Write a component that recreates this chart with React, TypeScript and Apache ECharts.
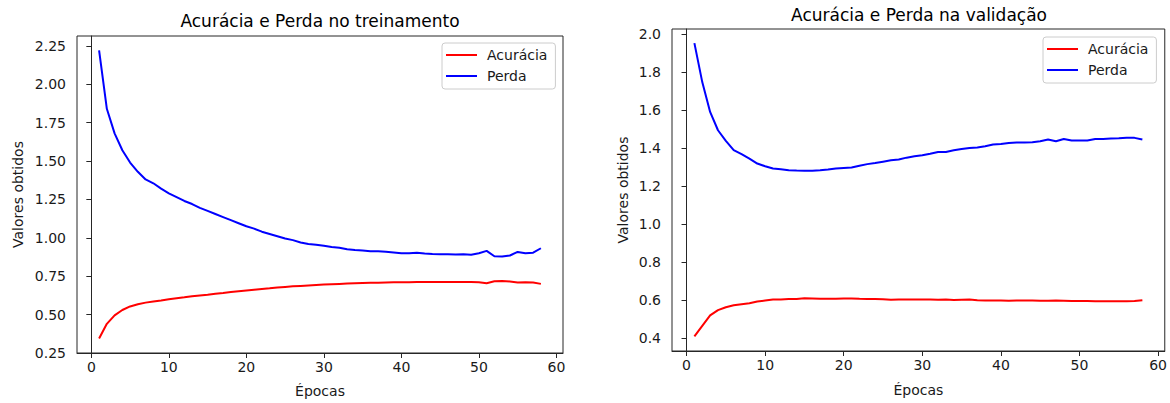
import React, { useEffect, useRef } from "react";
import * as echarts from "echarts";

const epochs = [
  1, 2, 3, 4, 5, 6, 7, 8, 9, 10, 11, 12, 13, 14, 15, 16, 17, 18, 19, 20,
  21, 22, 23, 24, 25, 26, 27, 28, 29, 30, 31, 32, 33, 34, 35, 36, 37, 38, 39, 40,
  41, 42, 43, 44, 45, 46, 47, 48, 49, 50, 51, 52, 53, 54, 55, 56, 57, 58,
];

const trainAcc = [
  0.345, 0.44, 0.495, 0.53, 0.553, 0.567, 0.578, 0.585, 0.592, 0.6,
  0.607, 0.613, 0.62, 0.625, 0.63, 0.636, 0.641, 0.647, 0.652, 0.657,
  0.662, 0.667, 0.671, 0.676, 0.68, 0.684, 0.687, 0.69, 0.693, 0.696,
  0.698, 0.7, 0.702, 0.704, 0.706, 0.707, 0.708, 0.709, 0.71, 0.711,
  0.711, 0.712, 0.712, 0.712, 0.713, 0.713, 0.713, 0.713, 0.712, 0.711,
  0.704, 0.717, 0.718, 0.716, 0.709, 0.711, 0.709, 0.7,
];

const trainLoss = [
  2.22, 1.84, 1.68, 1.57, 1.49, 1.43, 1.38, 1.355, 1.32, 1.29,
  1.265, 1.24, 1.22, 1.195, 1.175, 1.155, 1.135, 1.115, 1.095, 1.075,
  1.06, 1.04, 1.025, 1.01, 0.995, 0.985, 0.97, 0.96, 0.955, 0.948,
  0.94, 0.935, 0.925, 0.92, 0.917, 0.913, 0.912, 0.91, 0.905, 0.9,
  0.9, 0.902, 0.898, 0.895, 0.893, 0.893, 0.892, 0.893, 0.89, 0.9,
  0.915, 0.88, 0.878, 0.885, 0.908, 0.9, 0.903, 0.932,
];

const valAcc = [
  0.41, 0.465, 0.52, 0.548, 0.563, 0.573, 0.579, 0.584, 0.593, 0.598,
  0.603, 0.603, 0.606, 0.606, 0.61, 0.609, 0.608, 0.607, 0.608, 0.609,
  0.609, 0.607, 0.606, 0.606, 0.605, 0.602, 0.603, 0.603, 0.603, 0.603,
  0.603, 0.602, 0.603, 0.601, 0.602, 0.603, 0.6, 0.599, 0.599, 0.599,
  0.597, 0.598, 0.598, 0.598, 0.597, 0.597, 0.598, 0.597, 0.596, 0.596,
  0.596, 0.595, 0.595, 0.595, 0.595, 0.594, 0.596, 0.6,
];

const valLoss = [
  1.951, 1.746, 1.589, 1.493, 1.437, 1.388, 1.367, 1.344, 1.318, 1.304,
  1.292, 1.288, 1.283, 1.281, 1.28, 1.28, 1.283, 1.287, 1.292, 1.295,
  1.297, 1.306, 1.315, 1.321, 1.328, 1.335, 1.339, 1.349, 1.356, 1.362,
  1.37, 1.379, 1.379, 1.388, 1.395, 1.4, 1.402, 1.409, 1.418, 1.421,
  1.426, 1.428, 1.428, 1.43, 1.435, 1.444, 1.435, 1.447, 1.439, 1.439,
  1.439, 1.447, 1.447, 1.449, 1.451, 1.454, 1.453, 1.444,
];

const xTicks = [0, 10, 20, 30, 40, 50, 60];
const yTicksTrain = [0.25, 0.5, 0.75, 1.0, 1.25, 1.5, 1.75, 2.0, 2.25];
const yTicksVal = [0.4, 0.6, 0.8, 1.0, 1.2, 1.4, 1.6, 1.8, 2.0];

const titles = ["Acurácia e Perda no treinamento", "Acurácia e Perda na validação"];
const seriesNames = ["Acurácia", "Perda"];
const xName = "Épocas";
const yName = "Valores obtidos";

const FONT = "DejaVu Sans";
const TXT = "#1a1a1a";
const AX = "#262626";

function pairs(vals: number[]) {
  return epochs.map((e, i) => [e, vals[i]]);
}

function App() {
  const ref = useRef<HTMLDivElement>(null);

  useEffect(() => {
    if (!ref.current) return;
    const chart = echarts.init(ref.current, null, { renderer: "svg" });

    const xAxisBase = (gridIndex: number, gap: number) => ({
      type: "value",
      gridIndex,
      min: -1.85,
      max: 60.85,
      name: xName,
      nameLocation: "middle",
      nameGap: gap,
      nameTextStyle: { fontSize: 14, color: TXT, fontFamily: FONT },
      axisLine: { show: true, lineStyle: { color: AX, width: 1 } },
      axisTick: { show: true, length: 5, lineStyle: { color: AX }, customValues: xTicks },
      axisLabel: {
        show: true,
        fontSize: 14,
        color: TXT,
        fontFamily: FONT,
        margin: 7,
        customValues: xTicks,
        formatter: (v: number) => String(Math.round(v)),
      },
      splitLine: { show: false },
    });

    const yAxisBase = (gridIndex: number, min: number, max: number, ticks: number[], dec: number, gap: number) => ({
      type: "value",
      gridIndex,
      min,
      max,
      name: yName,
      nameLocation: "middle",
      nameGap: gap,
      nameTextStyle: { fontSize: 14, color: TXT, fontFamily: FONT },
      axisLine: { show: true, lineStyle: { color: AX, width: 1 } },
      axisTick: { show: true, length: 5, lineStyle: { color: AX }, customValues: ticks },
      axisLabel: {
        show: true,
        fontSize: 14,
        color: TXT,
        fontFamily: FONT,
        margin: 11,
        customValues: ticks,
        formatter: (v: number) => v.toFixed(dec),
      },
      splitLine: { show: false },
    });

    const legendBase = (left: number, top: number) => ({
      orient: "vertical",
      left,
      top,
      icon: "rect",
      itemWidth: 31,
      itemHeight: 2,
      itemGap: 7,
      padding: [5, 8, 6, 4],
      backgroundColor: "rgba(255,255,255,0.8)",
      borderColor: "#cccccc",
      borderWidth: 1,
      borderRadius: 3,
      textStyle: { fontSize: 14, color: TXT, fontFamily: FONT, padding: [0, 0, 0, 5] },
      data: seriesNames,
    });

    const line = (name: string, color: string, xi: number, vals: number[]) => ({
      type: "line",
      name,
      xAxisIndex: xi,
      yAxisIndex: xi,
      data: pairs(vals),
      showSymbol: false,
      symbol: "none",
      lineStyle: { color, width: 2 },
      itemStyle: { color },
      color,
    });

    chart.setOption({
      animation: false,
      textStyle: { fontFamily: FONT },
      grid: [
        { left: 77, top: 36, width: 486, height: 317, show: true, borderColor: AX, borderWidth: 1, backgroundColor: "transparent" },
        { left: 672, top: 29, width: 495, height: 322, show: true, borderColor: AX, borderWidth: 1, backgroundColor: "transparent" },
      ],
      xAxis: [xAxisBase(0, 31), xAxisBase(1, 32)],
      yAxis: [
        yAxisBase(0, 0.25, 2.314, yTicksTrain, 2, 52),
        yAxisBase(1, 0.333, 2.025, yTicksVal, 1, 42),
      ],
      legend: [legendBase(442, 43), legendBase(1043, 37)],
      graphic: [
        {
          type: "text",
          x: 320,
          y: 21,
          style: { text: titles[0], font: `17px "${FONT}"`, fill: "#000", align: "center", verticalAlign: "middle", textAlign: "center", textVerticalAlign: "middle" },
        },
        {
          type: "text",
          x: 919,
          y: 15,
          style: { text: titles[1], font: `17px "${FONT}"`, fill: "#000", align: "center", verticalAlign: "middle", textAlign: "center", textVerticalAlign: "middle" },
        },
      ],
      series: [
        line(seriesNames[0], "#ff0000", 0, trainAcc),
        line(seriesNames[1], "#0000ff", 0, trainLoss),
        line(seriesNames[0], "#ff0000", 1, valAcc),
        line(seriesNames[1], "#0000ff", 1, valLoss),
      ],
    });

    return () => chart.dispose();
  }, []);

  return (
    <div
      ref={ref}
      style={{ position: "absolute", left: 0, top: 0, width: 1170, height: 403, background: "#fff" }}
    />
  );
}

export default App;
